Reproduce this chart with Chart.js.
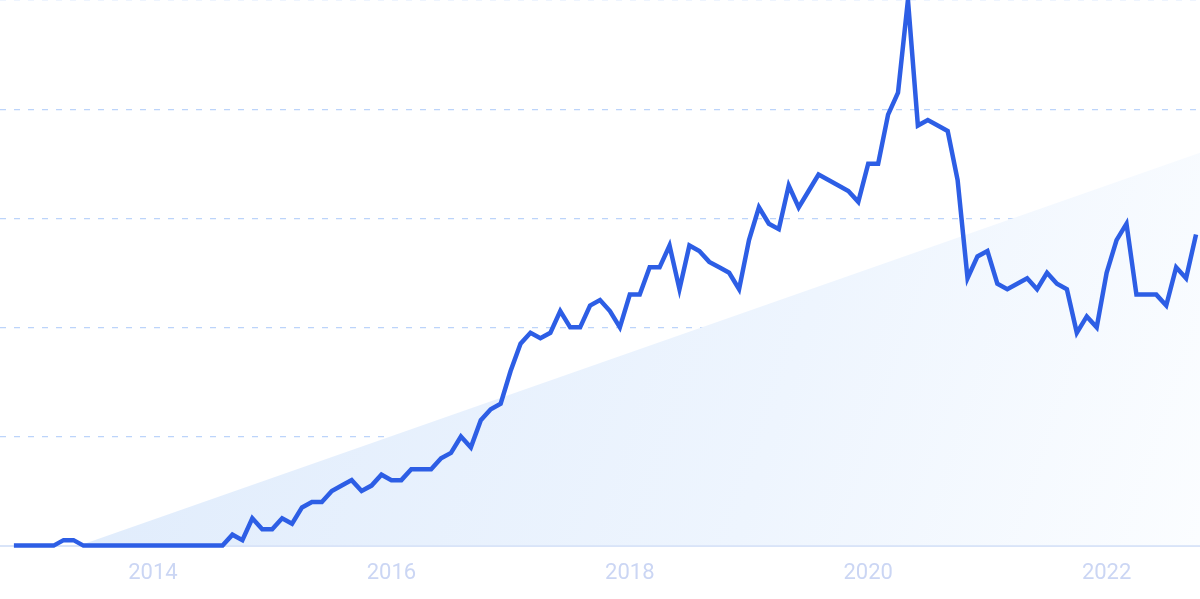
<!DOCTYPE html>
<html>
<head>
<meta charset="utf-8">
<script src="https://cdn.jsdelivr.net/npm/chart.js@4/dist/chart.umd.min.js"></script>
<style>
    html, body { margin: 0; padding: 0; background: #fff; }
    #wrap { width: 1200px; height: 599px; position: relative; }
</style>
</head>
<body>
<div id="wrap"><canvas id="trendChart"></canvas></div>
<script>
// monthly search interest, Nov 2012 .. Oct 2022 (index 0 = Nov 2012)
const interest = [
    0, 0, 0, 0, 0, 1, 1, 0, 0, 0,
    0, 0, 0, 0, 0, 0, 0, 0, 0, 0,
    0, 0, 2, 1, 5, 3, 3, 5, 4, 7,
    8, 8, 10, 11, 12, 10, 11, 13, 12, 12,
    14, 14, 14, 16, 17, 20, 18, 23, 25, 26,
    32, 37, 39, 38, 39, 43, 40, 40, 44, 45,
    43, 40, 46, 46, 51, 51, 55, 47, 55, 54,
    52, 51, 50, 47, 56, 62, 59, 58, 66, 62,
    65, 68, 67, 66, 65, 63, 70, 70, 79, 83,
    100, 77, 78, 77, 76, 67, 49, 53, 54, 48,
    47, 48, 49, 47, 50, 48, 47, 39, 42, 40,
    50, 56, 59, 46, 46, 46, 44, 51, 49, 57
]

// x axis labels sit on January of every other year
const tickYears = ['2014', '2016', '2018', '2020', '2022']
const tickMonths = [14, 38, 62, 86, 110]

// the pale growth wedge behind the line
const wedgeX = [6.6, 119.4]
const wedgeY = [0, 72]

const ctx = document.getElementById('trendChart')

function wedgeFill(context) {
    const area = context.chart.chartArea
    if (!area) {
        return 'rgba(225,236,252,1)'
    }
    const g = context.chart.ctx.createLinearGradient(area.left + 150, area.top + 200, area.right, area.bottom)
    g.addColorStop(0, 'rgba(224,236,252,1)')
    g.addColorStop(0.6, 'rgba(238,245,254,1)')
    g.addColorStop(1, 'rgba(251,253,255,1)')
    return g
}

new Chart(ctx, {
    type: 'line',
    data: {
        datasets: [{
            data: interest.map((v, i) => ({x: i, y: v})),
            borderColor: '#2d5ee5',
            borderWidth: 4.5,
            pointRadius: 0,
            tension: 0,
            fill: false,
            order: 0,
            clip: false
        }, {
            data: wedgeX.map((x, i) => ({x: x, y: wedgeY[i]})),
            borderWidth: 0,
            pointRadius: 0,
            backgroundColor: wedgeFill,
            fill: 'origin',
            order: 1
        }]
    },
    options: {
        responsive: true,
        maintainAspectRatio: false,
        animation: false,
        layout: {
            padding: {left: 0, right: 0, top: 0, bottom: -3}
        },
        plugins: {
            legend: {display: false},
            tooltip: {enabled: false}
        },
        scales: {
            x: {
                type: 'linear',
                min: -1.4,
                max: 119.4,
                afterBuildTicks: function(axis) {
                    axis.ticks = tickMonths.map(m => ({value: m}))
                },
                grid: {display: false, drawTicks: false},
                border: {display: true, color: '#d9e4f8', width: 2},
                ticks: {
                    autoSkip: false,
                    maxRotation: 0,
                    padding: 15,
                    color: '#cbd6f4',
                    font: {family: 'Roboto', size: 22},
                    callback: function(value) {
                        const k = tickMonths.indexOf(value)
                        return k == -1 ? '' : tickYears[k]
                    }
                }
            },
            y: {
                min: 0,
                max: 100,
                ticks: {display: false, stepSize: 20},
                grid: {color: 'rgba(188,212,250,1)', lineWidth: 1.2, drawTicks: false},
                border: {display: false, dash: [6, 8]}
            }
        }
    }
})
</script>
</body>
</html>
